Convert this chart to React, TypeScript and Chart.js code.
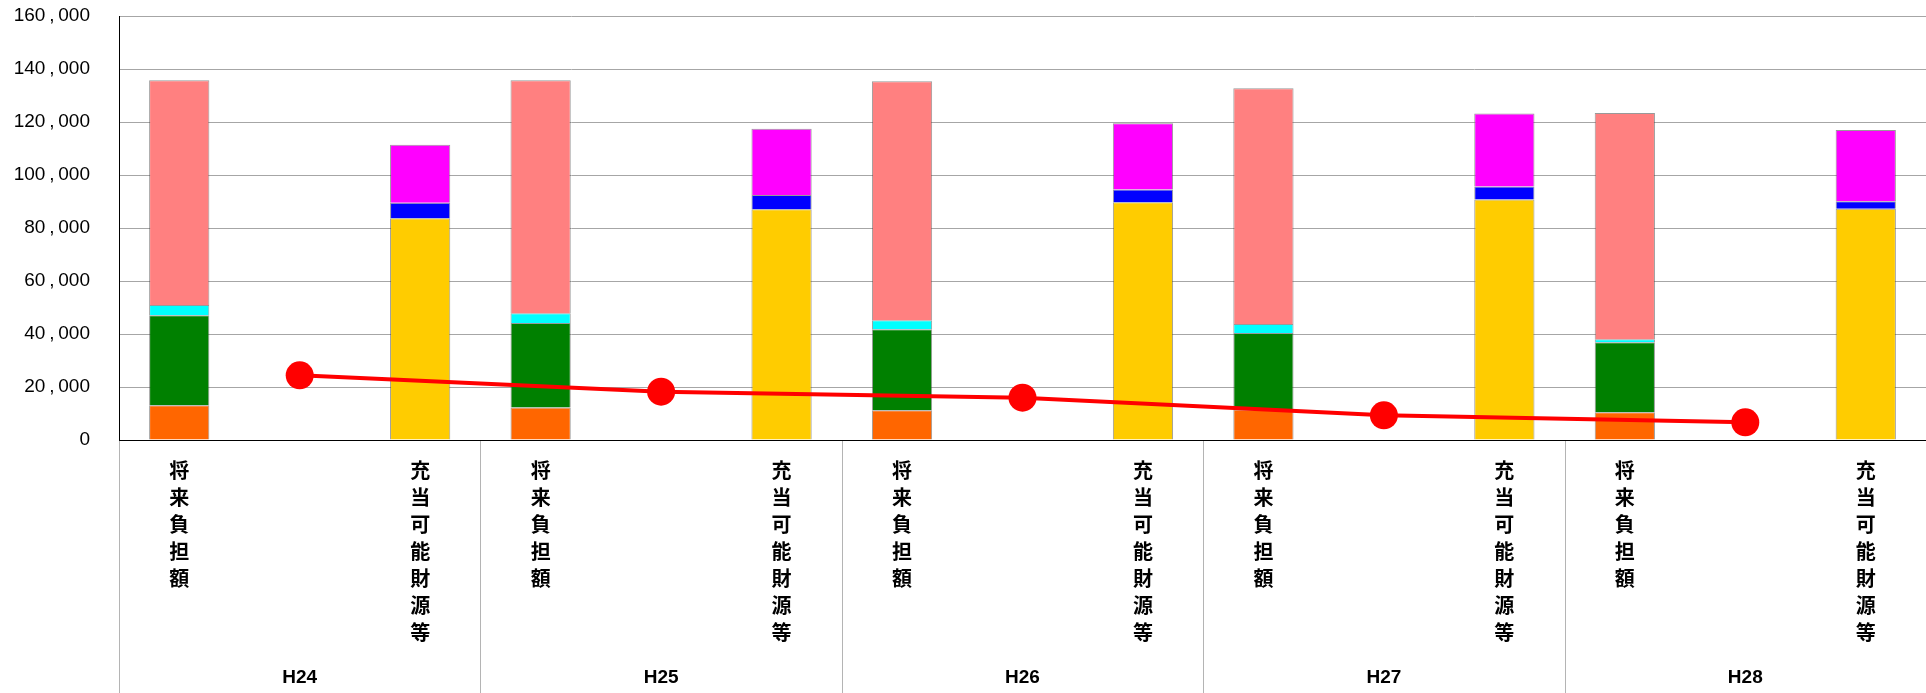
import React, { useEffect, useRef } from "react";
import { Chart, registerables } from "chart.js";

Chart.register(...registerables);

const years = ["H24", "H25", "H26", "H27", "H28"];
const labelFuture = "将来負担額";
const labelFunds = "充当可能財源等";

// 将来負担額 components (per year)
const orangeVals = [13100, 12300, 11200, 11500, 10450];
const greenVals = [34000, 31850, 30570, 28900, 26400];
const cyanVals = [3800, 3650, 3400, 3400, 1150];
const pinkVals = [84900, 87950, 90200, 88900, 85400];
// 充当可能財源等 components (per year)
const yellowVals = [83700, 87100, 89700, 90800, 87300];
const blueVals = [5800, 5400, 4800, 4900, 2800];
const magentaVals = [21900, 25000, 25000, 27550, 26900];
// line (per year)
const lineVals = [24400, 18240, 15970, 9310, 6670];

const yTicks = [0, 20000, 40000, 60000, 80000, 100000, 120000, 140000, 160000];

export default function App() {
  const ref = useRef<HTMLCanvasElement>(null);

  useEffect(() => {
    document.body.style.margin = "0";
    const canvas = ref.current;
    if (!canvas) return;

    const labels: (string | string[])[] = [];
    years.forEach(() => {
      labels.push(labelFuture.split(""));
      labels.push("");
      labels.push(labelFunds.split(""));
    });

    const slot = (vals: number[], pos: number) => {
      const out: (number | null)[] = [];
      vals.forEach((v) => {
        for (let k = 0; k < 3; k++) out.push(k === pos ? v : null);
      });
      return out;
    };

    const barBase = {
      type: "bar" as const,
      stack: "s",
      order: 1,
      borderWidth: 1,
      borderColor: "rgba(70,70,70,0.55)",
      categoryPercentage: 1,
      barPercentage: 0.5,
    };

    const groupPlugin = {
      id: "groups",
      afterDraw(chart: any) {
        const ctx = chart.ctx;
        const x = chart.scales.x;
        const area = chart.chartArea;
        const n = labels.length;
        const w = (area.right - area.left) / n;
        ctx.save();
        ctx.strokeStyle = "#b4b4b4";
        ctx.lineWidth = 1;
        for (let g = 0; g <= years.length; g++) {
          const px = Math.round(area.left + g * 3 * w) + 0.5;
          if (px > chart.width) continue;
          ctx.beginPath();
          ctx.moveTo(px, area.bottom + 1);
          ctx.lineTo(px, chart.height);
          ctx.stroke();
        }
        ctx.fillStyle = "#000";
        ctx.font = "bold 19px 'Liberation Sans', Arial, sans-serif";
        ctx.textAlign = "center";
        ctx.textBaseline = "middle";
        years.forEach((yr, g) => {
          const cx = x.getPixelForValue(g * 3 + 1);
          ctx.fillText(yr, cx, 678);
        });
        ctx.restore();
      },
    };

    const chart = new Chart(canvas, {
      type: "bar",
      data: {
        labels,
        datasets: [
          { ...barBase, label: "orange", data: slot(orangeVals, 0), backgroundColor: "#FF6600" },
          { ...barBase, label: "green", data: slot(greenVals, 0), backgroundColor: "#008000" },
          { ...barBase, label: "cyan", data: slot(cyanVals, 0), backgroundColor: "#00FFFF" },
          { ...barBase, label: "pink", data: slot(pinkVals, 0), backgroundColor: "#FF8080" },
          { ...barBase, label: "yellow", data: slot(yellowVals, 2), backgroundColor: "#FFCC00" },
          { ...barBase, label: "blue", data: slot(blueVals, 2), backgroundColor: "#0000FF" },
          { ...barBase, label: "magenta", data: slot(magentaVals, 2), backgroundColor: "#FF00FF" },
          {
            type: "line" as const,
            label: "ratio",
            stack: "line",
            order: 0,
            data: slot(lineVals, 1),
            spanGaps: true,
            borderColor: "#FF0000",
            backgroundColor: "#FF0000",
            borderWidth: 4,
            pointRadius: 14,
            pointBorderWidth: 0,
            pointBackgroundColor: "#FF0000",
            tension: 0,
          } as any,
        ],
      },
      options: {
        animation: false,
        responsive: false,
        events: [],
        layout: { autoPadding: false, padding: { top: 16, right: 0, left: 0, bottom: 0 } },
        plugins: { legend: { display: false }, tooltip: { enabled: false } },
        scales: {
          x: {
            stacked: true,
            offset: true,
            grid: { display: false, drawTicks: false },
            border: { display: true, color: "#000", width: 1 },
            ticks: {
              autoSkip: false,
              maxRotation: 0,
              minRotation: 0,
              padding: 17,
              color: "#000",
              font: { family: "'Noto Sans CJK JP', sans-serif", size: 20, weight: "bold", lineHeight: 1.35 },
            },
            afterFit(scale: any) {
              scale.height = 253;
              scale.paddingLeft = 0;
              scale.paddingRight = 0;
            },
          },
          y: {
            stacked: true,
            min: 0,
            max: 160000,
            afterBuildTicks(scale: any) {
              scale.ticks = yTicks.map((v) => ({ value: v }));
            },
            grid: { color: "#a6a6a6", lineWidth: 1, drawTicks: false },
            border: { display: true, color: "#000", width: 1 },
            ticks: {
              padding: 29,
              color: "#000",
              font: { family: "'Liberation Sans', Arial, sans-serif", size: 19 },
              callback: (v: any) => Number(v).toLocaleString("en-US").replace(",", "\u2009,\u2009"),
            },
            afterFit(scale: any) {
              scale.width = 119;
              scale.paddingTop = 0;
              scale.paddingBottom = 0;
            },
          },
        },
      },
      plugins: [groupPlugin],
    });

    return () => chart.destroy();
  }, []);

  return (
    <div style={{ width: 1926, height: 693 }}>
      <canvas ref={ref} width={1926} height={693} style={{ display: "block" }} />
    </div>
  );
}
